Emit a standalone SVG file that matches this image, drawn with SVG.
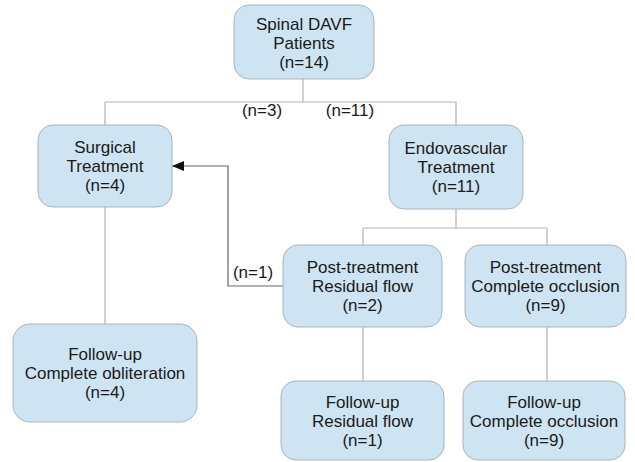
<svg xmlns="http://www.w3.org/2000/svg" width="635" height="462" viewBox="0 0 635 462">
<defs>
<style>
.box{fill:#cfe4f2;stroke:#a8b4bd;stroke-width:1}
.t{font-family:"Liberation Sans",Arial,sans-serif;font-size:17px;fill:#1a1a1a;text-anchor:middle}
.c{fill:none;stroke:#b3b3b3;stroke-width:1.2}
.a{fill:none;stroke:#666;stroke-width:1.2}
</style>
<marker id="ah" markerWidth="12" markerHeight="10" refX="12" refY="5" orient="auto" markerUnits="userSpaceOnUse">
<path d="M0,0 L12,5 L0,10 Z" fill="#111"/>
</marker>
</defs>
<rect width="635" height="462" fill="#fff"/>
<g id="connectors">
<path class="c" d="M303,79 V102"/>
<path class="c" d="M105,102 H456"/>
<path class="c" d="M105,102 V125"/>
<path class="c" d="M456,102 V125"/>
<path class="c" d="M105,207 V324"/>
<path class="c" d="M456,209 V228"/>
<path class="c" d="M363,228 H547"/>
<path class="c" d="M363,228 V245"/>
<path class="c" d="M547,228 V245"/>
<path class="c" d="M363,327 V381"/>
<path class="c" d="M547,327 V381"/>
<path class="a" d="M283,286 H228 V166 H172" marker-end="url(#ah)"/>
<text class="t" x="262" y="116">(n=3)</text>
<text class="t" x="350" y="116">(n=11)</text>
<text class="t" x="253" y="278">(n=1)</text>
</g>
<g id="patients">
<rect class="box" x="234" y="5" width="140" height="74" rx="15"/>
<text class="t" x="304" y="30">Spinal DAVF</text>
<text class="t" x="304" y="49">Patients</text>
<text class="t" x="304" y="68">(n=14)</text>
</g>
<g id="surgical">
<rect class="box" x="38" y="125" width="134" height="82" rx="15"/>
<text class="t" x="105" y="153">Surgical</text>
<text class="t" x="105" y="172">Treatment</text>
<text class="t" x="105" y="191">(n=4)</text>
</g>
<g id="endovascular">
<rect class="box" x="389" y="125" width="134" height="84" rx="15"/>
<text class="t" x="456" y="154">Endovascular</text>
<text class="t" x="456" y="173">Treatment</text>
<text class="t" x="456" y="192">(n=11)</text>
</g>
<g id="post-residual">
<rect class="box" x="283" y="245" width="159" height="82" rx="15"/>
<text class="t" x="362.5" y="273">Post-treatment</text>
<text class="t" x="362.5" y="292">Residual flow</text>
<text class="t" x="362.5" y="311">(n=2)</text>
</g>
<g id="post-complete">
<rect class="box" x="465" y="245" width="161" height="82" rx="15"/>
<text class="t" x="545.5" y="273">Post-treatment</text>
<text class="t" x="545.5" y="292">Complete occlusion</text>
<text class="t" x="545.5" y="311">(n=9)</text>
</g>
<g id="followup-obliteration">
<rect class="box" x="13" y="324" width="184" height="98" rx="17"/>
<text class="t" x="105" y="360">Follow-up</text>
<text class="t" x="105" y="379">Complete obliteration</text>
<text class="t" x="105" y="398">(n=4)</text>
</g>
<g id="followup-residual">
<rect class="box" x="281" y="381" width="163" height="79" rx="15"/>
<text class="t" x="362.5" y="408">Follow-up</text>
<text class="t" x="362.5" y="427">Residual flow</text>
<text class="t" x="362.5" y="446">(n=1)</text>
</g>
<g id="followup-complete">
<rect class="box" x="463" y="381" width="162" height="79" rx="15"/>
<text class="t" x="544" y="408">Follow-up</text>
<text class="t" x="544" y="427">Complete occlusion</text>
<text class="t" x="544" y="446">(n=9)</text>
</g>
</svg>
